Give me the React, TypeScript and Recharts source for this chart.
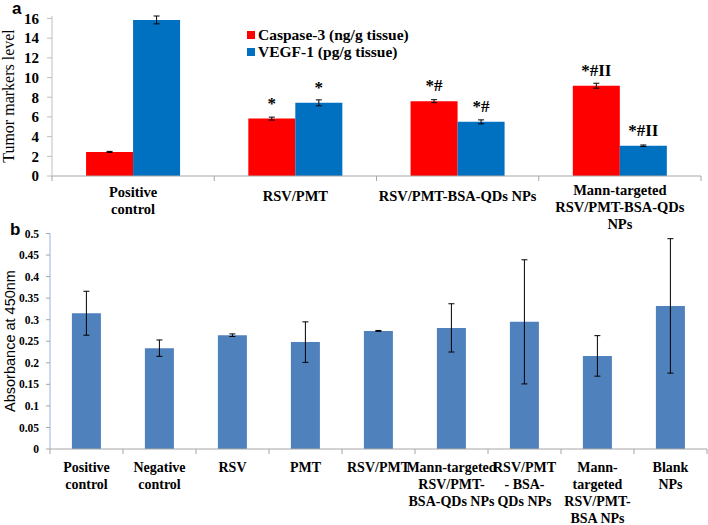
import React from 'react';
import { BarChart, Bar, XAxis, YAxis, ErrorBar, LabelList } from 'recharts';

// panel a
const groups = ['Positive\ncontrol', 'RSV/PMT', 'RSV/PMT-BSA-QDs NPs', 'Mann-targeted\nRSV/PMT-BSA-QDs\nNPs'];
const caspase = [2.45, 5.83, 7.6, 9.17];
const caspaseErr = [0.05, 0.15, 0.15, 0.25];
const vegf = [15.85, 7.43, 5.5, 3.07];
const vegfErr = [0.4, 0.3, 0.2, 0.08];
const caspaseMarks = ['', '*', '*#', '*#II'];
const vegfMarks = ['', '*', '*#', '*#II'];
const ticksA = [0, 2, 4, 6, 8, 10, 12, 14, 16];
const legendItems = [
  { name: 'Caspase-3 (ng/g tissue)', color: '#ff0000' },
  { name: 'VEGF-1 (pg/g tissue)', color: '#0070c0' },
];

// panel b
const samples = [
  'Positive\ncontrol',
  'Negative\ncontrol',
  'RSV',
  'PMT',
  'RSV/PMT',
  'Mann-targeted\nRSV/PMT-\nBSA-QDs NPs',
  'RSV/PMT\n- BSA-\nQDs NPs',
  'Mann-\ntargeted\nRSV/PMT-\nBSA NPs',
  'Blank\nNPs',
];
const absorbance = [0.315, 0.234, 0.264, 0.248, 0.274, 0.281, 0.295, 0.216, 0.332];
const absorbanceErr = [0.051, 0.019, 0.003, 0.047, 0.001, 0.056, 0.144, 0.047, 0.156];
const ticksB = [0, 0.05, 0.1, 0.15, 0.2, 0.25, 0.3, 0.35, 0.4, 0.45, 0.5];
const ticksBLabels = ['0', '0.05', '0.1', '0.15', '0.2', '0.25', '0.3', '0.35', '0.4', '0.45', '0.5'];

const SERIF = '"Liberation Serif", "Times New Roman", serif';
const SANS = '"Liberation Sans", Arial, sans-serif';

const dataA = groups.map((g, i) => ({
  group: g,
  caspase: caspase[i],
  caspaseErr: caspaseErr[i],
  vegf: vegf[i],
  vegfErr: vegfErr[i],
}));

const dataB = samples.map((s, i) => ({
  sample: s,
  value: absorbance[i],
  err: absorbanceErr[i],
}));

const BAND_A = (701 - 52) / 4;
const BAND_B = (707 - 50) / 9;

// multi-line category tick with boundary tick marks, text clipped near its band like Excel
const makeTick = (id: string, band: number, count: number, firstOffsets: number[], lh: number, size: number, pad: number) =>
  (props: any) => {
    const { x, y, payload, index } = props;
    const lines = String(payload.value).split('\n');
    const first = firstOffsets[Math.min(lines.length, firstOffsets.length) - 1];
    const clipId = `${id}-clip-${index}`;
    return (
      <g>
        <defs>
          <clipPath id={clipId}>
            <rect x={x - band / 2 - pad} y={y} width={band + pad * 2} height={90} />
          </clipPath>
        </defs>
        <line x1={x - band / 2} x2={x - band / 2} y1={y} y2={y + 5} stroke="#a6a6a6" />
        {index === count - 1 && (
          <line x1={x + band / 2} x2={x + band / 2} y1={y} y2={y + 5} stroke="#a6a6a6" />
        )}
        <text
          textAnchor="middle"
          fontFamily={SERIF}
          fontWeight="bold"
          fontSize={size}
          fill="#000"
          clipPath={`url(#${clipId})`}
        >
          {lines.map((l, k) => (
            <tspan key={k} x={x} y={y + first + k * lh}>
              {l}
            </tspan>
          ))}
        </text>
      </g>
    );
  };

const markLabel = (marks: string[]) => (props: any) => {
  const { x, y, width, index } = props;
  const m = marks[index];
  if (!m) return null;
  return (
    <text
      x={x + width / 2}
      y={y - 10}
      textAnchor="middle"
      fontFamily={SERIF}
      fontWeight="bold"
      fontSize={17}
      fill="#000"
    >
      {m}
    </text>
  );
};

export default function App() {
  return (
    <div style={{ position: 'absolute', left: 0, top: 0, width: 708, height: 525, background: '#fff' }}>
      <div style={{ position: 'absolute', left: 12, top: 2, lineHeight: '14px', fontFamily: SANS, fontWeight: 'bold', fontSize: 17 }}>a</div>
      <div style={{ position: 'absolute', left: 10, top: 222, lineHeight: '16px', fontFamily: SANS, fontWeight: 'bold', fontSize: 17 }}>b</div>

      <div style={{ position: 'absolute', left: 0, top: 0 }}>
        <BarChart
          width={708}
          height={240}
          data={dataA}
          margin={{ top: 16, right: 7, bottom: 0, left: 0 }}
          barCategoryGap="21%"
          barGap={0}
        >
          <XAxis
            dataKey="group"
            height={64}
            interval={0}
            axisLine={{ stroke: '#a6a6a6' }}
            tickLine={false}
            tickSize={0}
            tickMargin={0}
            tick={makeTick('a', BAND_A, groups.length, [25, 21, 19], 17, 14.5, 20)}
          />
          <YAxis
            width={52}
            domain={[0, 16]}
            ticks={ticksA}
            interval={0}
            axisLine={{ stroke: '#bfbfbf' }}
            tickLine={{ stroke: '#bfbfbf' }}
            tickSize={5}
            tickMargin={8}
            tick={{ fontFamily: SERIF, fontWeight: 'bold', fontSize: 15, fill: '#000' }}
            label={{
              content: () => (
                <text
                  x={0}
                  y={0}
                  transform="translate(14, 96) rotate(-90)"
                  textAnchor="middle"
                  fontFamily={SERIF}
                  fontSize={16}
                  fill="#000"
                >
                  Tumor markers level
                </text>
              ),
            }}
          />
          <Bar dataKey="caspase" fill="#ff0000" isAnimationActive={false}>
            <ErrorBar dataKey="caspaseErr" width={3} stroke="#000" strokeWidth={1} direction="y" />
            <LabelList dataKey="caspase" content={markLabel(caspaseMarks)} />
          </Bar>
          <Bar dataKey="vegf" fill="#0070c0" isAnimationActive={false}>
            <ErrorBar dataKey="vegfErr" width={3} stroke="#000" strokeWidth={1} direction="y" />
            <LabelList dataKey="vegf" content={markLabel(vegfMarks)} />
          </Bar>
        </BarChart>
      </div>

      <div
        style={{
          position: 'absolute',
          left: 247,
          top: 26,
          fontFamily: SERIF,
          fontWeight: 'bold',
          fontSize: 15.5,
          lineHeight: '17px',
          color: '#000',
        }}
      >
        {legendItems.map((it) => (
          <div key={it.name} style={{ display: 'flex', alignItems: 'center', whiteSpace: 'nowrap' }}>
            <span style={{ width: 8, height: 8, background: it.color, marginRight: 3 }} />
            {it.name}
          </div>
        ))}
      </div>

      <div style={{ position: 'absolute', left: 0, top: 220 }}>
        <BarChart
          width={708}
          height={305}
          data={dataB}
          margin={{ top: 13.5, right: 1, bottom: 0, left: 0 }}
          barCategoryGap="30%"
        >
          <XAxis
            dataKey="sample"
            height={76}
            interval={0}
            axisLine={{ stroke: '#a6a6a6' }}
            tickLine={false}
            tickSize={0}
            tickMargin={0}
            tick={makeTick('b', BAND_B, samples.length, [23, 23, 23, 23], 17, 14, 8)}
          />
          <YAxis
            width={50}
            domain={[0, 0.5]}
            ticks={ticksB}
            interval={0}
            tickFormatter={(v: number) => ticksBLabels[ticksB.indexOf(v)] ?? String(v)}
            axisLine={{ stroke: '#95b3d7' }}
            tickLine={{ stroke: '#a6a6a6' }}
            tickSize={4}
            tickMargin={7}
            tick={{ fontFamily: SERIF, fontWeight: 'bold', fontSize: 11.5, fill: '#000' }}
            label={{
              content: () => (
                <text
                  x={0}
                  y={0}
                  transform="translate(15, 121) rotate(-90)"
                  textAnchor="middle"
                  fontFamily={SANS}
                  fontSize={14.5}
                  fill="#000"
                >
                  Absorbance at 450nm
                </text>
              ),
            }}
          />
          <Bar dataKey="value" fill="#4f81bd" isAnimationActive={false}>
            <ErrorBar dataKey="err" width={3} stroke="#000" strokeWidth={1} direction="y" />
          </Bar>
        </BarChart>
      </div>
    </div>
  );
}
